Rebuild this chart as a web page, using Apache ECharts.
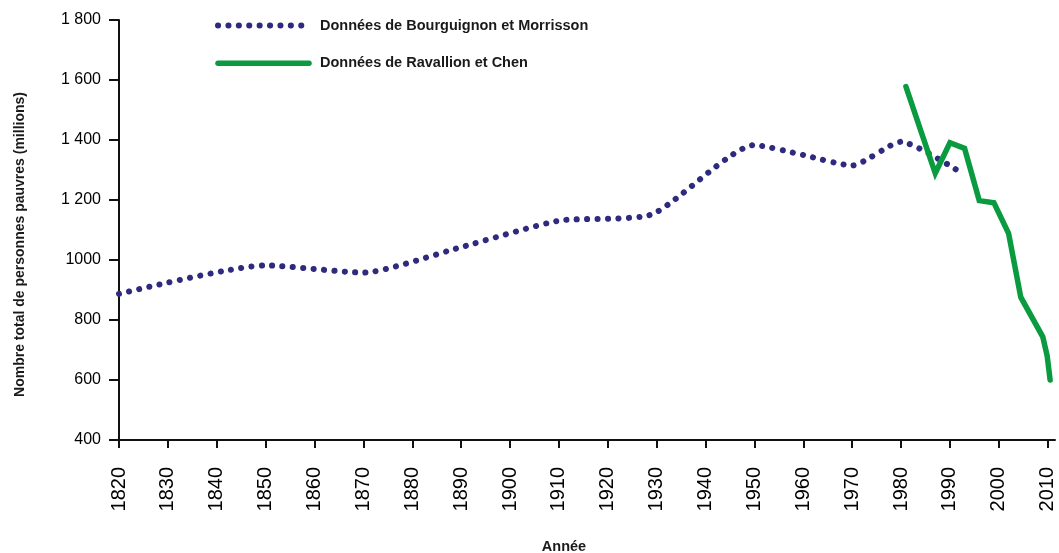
<!DOCTYPE html>
<html>
<head>
<meta charset="utf-8">
<script src="https://cdn.jsdelivr.net/npm/echarts@6/dist/echarts.min.js"></script>
<style>
  html, body { margin: 0; padding: 0; background: #fff; }
  #chart { width: 1059px; height: 553px; }
</style>
</head>
<body>
<div id="chart"></div>
<script>
// Bourguignon & Morrisson (dotted)
const bmYears = [1820, 1850, 1870, 1890, 1910, 1929, 1950, 1960, 1970, 1980, 1992]
const bmValues = [887, 982, 958, 1043, 1131, 1152, 1383, 1350, 1315, 1394, 1294]

// Ravallion & Chen (solid green)
const rcYears = [1981, 1984, 1987, 1990, 1993, 1996, 1999, 2002, 2004.5, 2009, 2009.9, 2010.5]
const rcValues = [1578, 1433, 1289, 1391, 1372, 1198, 1191, 1089, 876, 744, 680, 600]

const xTickYears = [1820, 1830, 1840, 1850, 1860, 1870, 1880, 1890, 1900, 1910, 1920,
  1930, 1940, 1950, 1960, 1970, 1980, 1990, 2000, 2010]
const yTickValues = [400, 600, 800, 1000, 1200, 1400, 1600, 1800]
const yTickLabels = ['400', '600', '800', '1000', '1 200', '1 400', '1 600', '1 800']

const font = '"Liberation Sans", Arial, Helvetica, sans-serif'
const dotBlue = '#2e2a7e'
const green = '#0a9a3f'
const dotDash = [0.1, 10.3]

const chart = echarts.init(document.getElementById('chart'))

const option = {
  animation: false,
  textStyle: { fontFamily: font },
  grid: { left: 119, top: 20, width: 936, height: 420, containLabel: false, outerBoundsMode: 'none' },
  legend: {
    orient: 'vertical',
    left: 215,
    top: 18,
    padding: 0,
    itemWidth: 91,
    itemHeight: 14,
    itemGap: 22.7,
    selectedMode: false,
    itemStyle: { opacity: 0 },
    textStyle: { fontFamily: font, fontSize: 14.5, fontWeight: 'bold', color: '#1a1a1a', padding: [0, 0, 0, 6] },
    data: [
      {
        name: 'Données de Bourguignon et Morrisson',
        lineStyle: { color: dotBlue, width: 6, type: dotDash, cap: 'round' }
      },
      {
        name: 'Données de Ravallion et Chen',
        lineStyle: { color: green, width: 5.5, cap: 'round' }
      }
    ]
  },
  xAxis: {
    type: 'value',
    min: 1820,
    max: 2011.5,
    name: 'Année',
    nameLocation: 'middle',
    nameGap: 99,
    nameTextStyle: { fontFamily: font, fontSize: 14.5, fontWeight: 'bold', color: '#1a1a1a', padding: [0, 46, 0, 0] },
    splitLine: { show: false },
    axisLine: { show: true, lineStyle: { color: '#111', width: 2 } },
    axisTick: { show: true, length: 8, lineStyle: { color: '#111', width: 2 }, customValues: xTickYears },
    axisLabel: {
      rotate: 90,
      margin: 27,
      fontSize: 20,
      color: '#000',
      customValues: xTickYears,
      formatter: (v) => String(v)
    }
  },
  yAxis: {
    type: 'value',
    min: 400,
    max: 1800,
    interval: 200,
    name: 'Nombre total de personnes pauvres (millions)',
    nameLocation: 'middle',
    nameGap: 92,
    nameTextStyle: { fontFamily: font, fontSize: 14, fontWeight: 'bold', color: '#1a1a1a', padding: [0, 29, 0, 0] },
    splitLine: { show: false },
    axisLine: { show: true, lineStyle: { color: '#111', width: 2 } },
    axisTick: { show: true, length: 10, lineStyle: { color: '#111', width: 2 } },
    axisLabel: {
      margin: 18,
      fontSize: 16,
      color: '#000',
      formatter: (v) => {
        const i = yTickValues.indexOf(v)
        return i >= 0 ? yTickLabels[i] : ''
      }
    }
  },
  series: [
    {
      name: 'Données de Bourguignon et Morrisson',
      type: 'line',
      smooth: 0.2,
      symbol: 'none',
      color: dotBlue,
      lineStyle: { color: dotBlue, width: 6, type: dotDash, cap: 'round' },
      data: bmYears.map((y, i) => [y, bmValues[i]]),
      z: 2
    },
    {
      name: 'Données de Ravallion et Chen',
      type: 'line',
      symbol: 'none',
      color: green,
      lineStyle: { color: green, width: 5.5, cap: 'round', join: 'miter' },
      data: rcYears.map((y, i) => [y, rcValues[i]]),
      z: 3
    }
  ]
}

chart.setOption(option)
</script>
</body>
</html>
